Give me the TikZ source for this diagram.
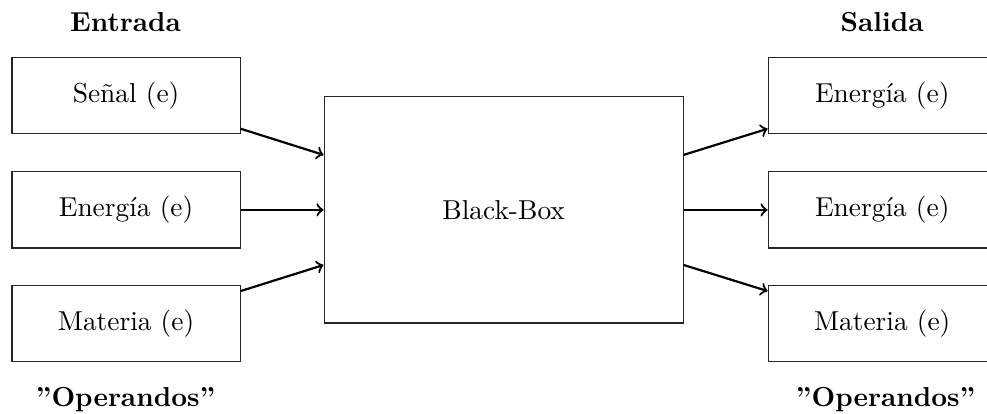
\documentclass[tikz,border=0pt]{standalone}
\usetikzlibrary{positioning}

\begin{document}
\begin{tikzpicture}[>=to,
      block/.style={rectangle, draw=black!85, minimum width=2.925cm,
                    minimum height=0.975cm, inner sep=2pt},
      bigblock/.style={rectangle, draw=black!85, minimum width=4.606cm,
                       minimum height=2.90cm},
      flow/.style={->, thick},
      title/.style={font=\bfseries},
    ]
    \useasboundingbox (0,0) rectangle (12.66,5.31);

    % Left: inputs
    \node[title] (tin) at (1.61, 5.03) {Entrada};
    \node[block] (in1) at (1.617, 4.08) {Señal (e)};
    \node[block] (in2) at (1.617, 2.617) {Energía (e)};
    \node[block] (in3) at (1.617, 1.155) {Materia (e)};
    \node[title] (opin) at (1.61, 0.18) {”Operandos”};

    % Middle
    \node[bigblock] (bb) at (6.46, 2.617) {Black-Box};

    % Right: outputs
    \node[title] (tout) at (11.316, 5.03) {Salida};
    \node[block] (out1) at (11.316, 4.08) {Energía (e)};
    \node[block] (out2) at (11.316, 2.617) {Energía (e)};
    \node[block] (out3) at (11.316, 1.155) {Materia (e)};
    \node[title] (opout) at (11.36, 0.18) {”Operandos”};

    % Inputs into the box
    \draw[flow] (in1.-16) -- (bb.163);
    \draw[flow] (in2.east) -- (bb.west);
    \draw[flow] (in3.16) -- (bb.197);

    % Box to outputs
    \draw[flow] (bb.17) -- (out1.196);
    \draw[flow] (bb.east) -- (out2.west);
    \draw[flow] (bb.-17) -- (out3.164);

  \end{tikzpicture}
\end{document}
